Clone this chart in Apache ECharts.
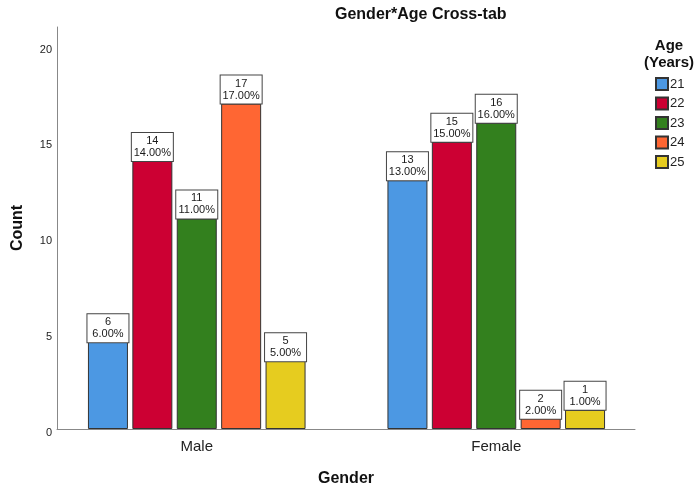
<!DOCTYPE html>
<html>
<head>
<meta charset="utf-8">
<script src="https://cdn.jsdelivr.net/npm/echarts@6/dist/echarts.min.js"></script>
<style>
  html, body { margin: 0; padding: 0; background: #fff; }
  #chart { width: 696px; height: 488px; }
</style>
</head>
<body>
<div id="chart"></div>
<script>
// Gender x Age cross-tab: counts per age group within each gender
const genders = ['Male', 'Female'];
const ageGroups = ['21', '22', '23', '24', '25'];
const maleCounts = [6, 14, 11, 17, 5];
const femaleCounts = [13, 15, 16, 2, 1];
const countTicks = [0, 5, 10, 15, 20];

const ageColors = ['#4c98e3', '#cc0033', '#33801e', '#ff6633', '#e6cc1f'];
const FONT = '"Liberation Sans", Arial, Helvetica, sans-serif';

const total = maleCounts.concat(femaleCounts).reduce((a, b) => a + b, 0);

// Label box sits above the bar, except on short-but-not-tiny bars where it hangs inside the top
function labelPosition(v) {
  return (v >= 2 && v <= 6) ? 'insideTop' : 'top';
}

const series = ageGroups.map((age, i) => {
  const values = [maleCounts[i], femaleCounts[i]];
  return {
    name: age,
    type: 'bar',
    xAxisIndex: 0,
    yAxisIndex: 0,
    barWidth: 40,
    barGap: '11%',
    itemStyle: { color: ageColors[i], borderColor: '#333', borderWidth: 1 },
    data: values.map(v => ({
      value: v,
      label: { position: labelPosition(v) }
    })),
    label: {
      show: true,
      distance: 0,
      formatter: p => p.value + '\n' + (p.value / total * 100).toFixed(2) + '%',
      fontFamily: FONT,
      fontSize: 11,
      lineHeight: 12,
      color: '#1a1a1a',
      backgroundColor: '#fff',
      borderColor: '#444',
      borderWidth: 1,
      width: 39,
      align: 'center',
      padding: [2, 1, 2, 1]
    },
    emphasis: { disabled: true }
  };
});

const chart = echarts.init(document.getElementById('chart'), null, { renderer: 'canvas' });
chart.setOption({
  animation: false,
  backgroundColor: '#fff',
  title: [
    {
      text: 'Gender*Age Cross-tab',
      left: 335,
      top: 7,
      padding: 0,
      textStyle: { fontFamily: FONT, fontSize: 16, fontWeight: 'bold', color: '#111' }
    },
    {
      text: 'Age\n(Years)',
      left: 669,
      top: 37,
      padding: 0,
      textAlign: 'center',
      textStyle: { fontFamily: FONT, fontSize: 15, fontWeight: 'bold', lineHeight: 17, color: '#111' }
    }
  ],
  legend: {
    orient: 'vertical',
    left: 655,
    top: 77,
    padding: 0,
    itemWidth: 12,
    itemHeight: 12,
    itemGap: 5.5,
    icon: 'rect',
    selectedMode: false,
    textStyle: { fontFamily: FONT, fontSize: 13, color: '#222', padding: [0, 0, 0, -3] },
    data: ageGroups
  },
  grid: [
    // bar area (category bands)
    { left: 47, right: 50, top: 27, bottom: 59, outerBoundsMode: 'none' },
    // frame with visible axes
    { left: 57, right: 61, top: 27, bottom: 59, outerBoundsMode: 'none' }
  ],
  xAxis: [
    {
      type: 'category',
      gridIndex: 0,
      data: genders,
      axisLine: { show: false },
      axisTick: { show: false },
      axisLabel: { fontFamily: FONT, fontSize: 15, color: '#222', margin: 10 }
    },
    {
      type: 'value',
      gridIndex: 1,
      min: 0,
      max: 1,
      axisLine: { show: true, lineStyle: { color: '#888', width: 1 } },
      axisTick: { show: false },
      axisLabel: { show: false },
      splitLine: { show: false },
      name: 'Gender',
      nameLocation: 'middle',
      nameGap: 42,
      nameTextStyle: { fontFamily: FONT, fontSize: 16, fontWeight: 'bold', color: '#111' }
    }
  ],
  yAxis: [
    {
      type: 'value',
      gridIndex: 0,
      min: 0,
      max: 21,
      show: false,
      splitLine: { show: false }
    },
    {
      type: 'value',
      gridIndex: 1,
      min: 0,
      max: 21,
      interval: 5,
      axisLine: { show: true, lineStyle: { color: '#888', width: 1 } },
      axisTick: { show: false },
      splitLine: { show: false },
      axisLabel: {
        fontFamily: FONT,
        fontSize: 11,
        color: '#222',
        margin: 5,
        verticalAlign: 'top',
        lineHeight: 7,
        formatter: v => countTicks.includes(v) ? String(v) : ''
      },
      name: 'Count',
      nameLocation: 'middle',
      nameGap: 31,
      nameTextStyle: { fontFamily: FONT, fontSize: 16, fontWeight: 'bold', color: '#111' }
    }
  ],
  series: series
});
</script>
</body>
</html>
